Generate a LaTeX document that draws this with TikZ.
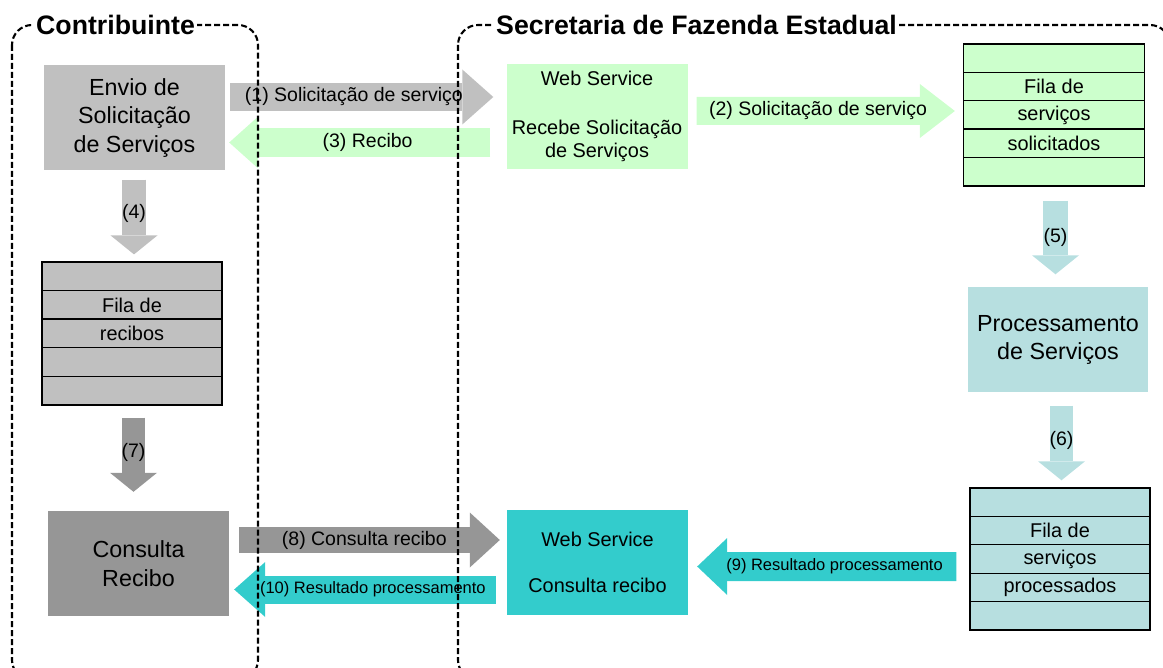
\documentclass[tikz,border=0pt]{standalone}
\usepackage{fontspec}
\setmainfont{Liberation Sans}
\usetikzlibrary{arrows.meta,calc}
\definecolor{cinzaClaro}{HTML}{C0C0C0}
\definecolor{cinzaEscuro}{HTML}{969696}
\definecolor{verdeClaro}{HTML}{CCFFCC}
\definecolor{azulClaro}{HTML}{B7DFE0}
\definecolor{turquesa}{HTML}{33CCCC}
\begin{document}
\begin{tikzpicture}[x=1pt, y=-1pt,
	caixa/.style={minimum width=181pt, minimum height=105pt, inner sep=0pt, align=center, font=\fontsize{23.3}{28.5}\selectfont},
	ws/.style={caixa, font=\fontsize{19.9}{23.5}\selectfont},
	linha/.style={draw=black, line width=1.3pt, minimum width=181pt, minimum height=28.5pt, inner sep=0pt, font=\fontsize{19.9}{23}\selectfont},
	setah/.style={line width=28pt, -{Triangle[length=31pt, width=55pt, line width=0pt]}},
	setav/.style={line width=24pt, -{Triangle[length=19pt, width=47pt, line width=0pt]}},
	rotulo/.style={font=\fontsize{19.5}{22}\selectfont, text=black, inner sep=0pt},
	rotulop/.style={rotulo, font=\fontsize{16.5}{19}\selectfont},
	moldura/.style={draw=black, line width=2.1pt, dash pattern=on 6pt off 3pt, rounded corners=20pt},
	titulo/.style={fill=white, font=\bfseries\fontsize{26.7}{30}\selectfont, inner sep=2pt}]
	\useasboundingbox (0,0) rectangle (1163,668);

	% caixas
	\node (envio)	at (134.5, 118)		[caixa, fill=cinzaClaro]	{Envio de\\Solicitação\\de Serviços};
	\node (recebe)	at (597, 116.5)		[ws, fill=verdeClaro]		{Web Service\\[25pt]Recebe Solicitação\\de Serviços};
	\node (proc)	at (1058, 340)		[caixa, fill=azulClaro, minimum width=180pt]	{Processamento\\de Serviços};
	\node (consrec)	at (597.5, 562.5)	[ws, fill=turquesa]		{Web Service\\[23pt]Consulta recibo};
	\node (consulta) at (138.5, 563.5)	[caixa, fill=cinzaEscuro]	{Consulta\\Recibo};

	% filas
	\foreach \i/\t in {1/,2/Fila de,3/serviços,4/solicitados,5/}
		\node (sol\i) at (1054, {29.8+28.4*\i})	[linha, fill=verdeClaro]	{\t};
	\foreach \i/\t in {1/,2/Fila de,3/recibos,4/,5/}
		\node (rec\i) at (132, {247.7+28.6*\i})	[linha, fill=cinzaClaro, minimum width=180pt]	{\t};
	\foreach \i/\t in {1/,2/Fila de,3/serviços,4/processados,5/}
		\node (pro\i) at (1060, {473.8+28.4*\i})	[linha, fill=azulClaro, minimum width=180pt]	{\t};

	% setas
	\draw[setah, draw=cinzaClaro] ($(envio.east)+(5,-21)$) -- ($(recebe.west)+(-13,-19.5)$)
		node[rotulo, pos=0.47] {(1) Solicitação de serviço};
	\draw[setah, draw=verdeClaro, line width=28pt, -{Triangle[length=35pt, width=54pt, line width=0pt]}] ($(recebe.east)+(9,-5.5)$) -- ($(sol3.west)+(-8,-4)$)
		node[rotulo, pos=0.47] {(2) Solicitação de serviço};
	\draw[setah, draw=verdeClaro, line width=29pt, -{Triangle[length=29pt, width=52pt, line width=0pt]}] ($(recebe.west)+(-16,26)$) -- ($(envio.east)+(4,24.5)$)
		node[rotulo, pos=0.47] {(3) Recibo};
	\draw[setav, draw=cinzaClaro] ($(envio.south)+(-0.5,9)$) -- ($(rec1.north)+(2,-7)$)
		node[rotulo, pos=0.45] {(4)};
	\draw[setav, draw=azulClaro, line width=25pt] ($(sol5.south)+(1.5,14)$) -- ($(proc.north)+(-2.5,-13)$)
		node[rotulo, pos=0.5] {(5)};
	\draw[setav, draw=azulClaro, line width=23pt] ($(proc.south)+(3.5,13)$) -- ($(pro1.north)+(1.5,-7)$)
		node[rotulo, pos=0.46] {(6)};
	\draw[setav, draw=cinzaEscuro, line width=23pt] ($(rec5.south)+(1.5,12)$) -- ($(consulta.north)+(-5,-19)$)
		node[rotulo, pos=0.47] {(7)};
	\draw[setah, draw=cinzaEscuro, line width=26pt, -{Triangle[length=30pt, width=55pt, line width=0pt]}] ($(consulta.east)+(10,-23.5)$) -- ($(consrec.west)+(-7,-22.5)$)
		node[rotulo, pos=0.48] {(8) Consulta recibo};
	\draw[setah, draw=turquesa, line width=29pt, -{Triangle[length=30pt, width=57pt, line width=0pt]}] ($(pro3.west)+(-13,7.5)$) -- ($(consrec.east)+(9,4)$)
		node[rotulop, pos=0.47] {(9) Resultado processamento};
	\draw[setah, draw=turquesa] ($(consrec.west)+(-11,27)$) -- ($(consulta.east)+(5,26)$)
		node[rotulop, pos=0.47] {(10) Resultado processamento};

	% molduras
	\draw[moldura] (12,25) rectangle (258,680);
	\draw[moldura] (458,25) rectangle (1170,680);
	\node (contrib)	at (34, 25)	[titulo, anchor=west]	{Contribuinte};
	\node (sefaz)	at (494, 25)	[titulo, anchor=west]	{Secretaria de Fazenda Estadual};
\end{tikzpicture}
\end{document}
